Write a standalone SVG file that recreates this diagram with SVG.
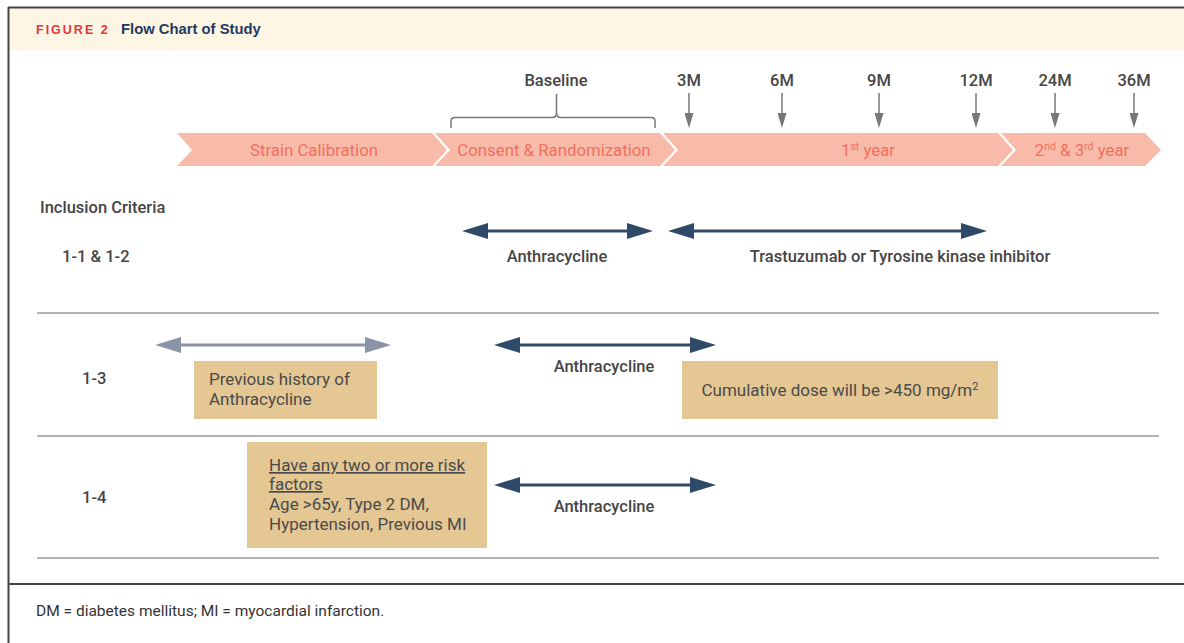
<svg xmlns="http://www.w3.org/2000/svg" width="1184" height="643" viewBox="0 0 1184 643">
<style>
.lbl{font-family:Roboto,"Liberation Sans",sans-serif;font-size:16.5px;font-weight:500;fill:#454545}
.chev{fill:#f9bba9}
.chevt{font-family:Roboto,"Liberation Sans",sans-serif;font-size:16.8px;fill:#f0705e;text-anchor:middle}
.box{fill:#e5c794}
.boxt{font-family:Roboto,"Liberation Sans",sans-serif;font-size:17px;fill:#4a4a4a}
.sep{stroke:#9a9a9a;stroke-width:1.5}
.dark{stroke:#2f4a69;stroke-width:3;fill:none}
.grey{stroke:#8b93a7;stroke-width:3;fill:none}
.tick{stroke:#777;stroke-width:1.5;fill:none}
</style>
<defs>
<marker id="hd" viewBox="0 0 26 16" refX="6" refY="8" markerWidth="26" markerHeight="16" markerUnits="userSpaceOnUse" orient="auto-start-reverse"><path d="M0,0 L26,8 L0,16 Z" fill="#2f4a69"/></marker>
<marker id="hg" viewBox="0 0 26 16" refX="6" refY="8" markerWidth="26" markerHeight="16" markerUnits="userSpaceOnUse" orient="auto-start-reverse"><path d="M0,0 L26,8 L0,16 Z" fill="#8b93a7"/></marker>
<marker id="ht" viewBox="0 0 15 9" refX="2" refY="4.5" markerWidth="15" markerHeight="9" markerUnits="userSpaceOnUse" orient="auto"><path d="M0,0 L15,4.5 L0,9 Z" fill="#777"/></marker>
</defs>
<rect x="0" y="0" width="1184" height="643" fill="#fff"/>
<g id="frame">
<rect x="9" y="8" width="1175" height="42" fill="#fef6e4"/>
<line x1="8" y1="7.5" x2="1184" y2="7.5" stroke="#444" stroke-width="2"/>
<line x1="8.5" y1="7" x2="8.5" y2="643" stroke="#444" stroke-width="2"/>
<line x1="8" y1="584" x2="1184" y2="584" stroke="#444" stroke-width="2"/>
<text x="36" y="34" font-family="'Liberation Sans',sans-serif" font-size="12.5" font-weight="bold" letter-spacing="2" fill="#e8333a">FIGURE 2</text>
<text x="121" y="34" font-family="'Liberation Sans',sans-serif" font-size="14.8" font-weight="bold" fill="#1f3a63">Flow Chart of Study</text>
<text x="36" y="616" font-family="Roboto,'Liberation Sans',sans-serif" font-size="15.5" fill="#333">DM = diabetes mellitus; MI = myocardial infarction.</text>
</g>
<g id="timeline">
<path class="chev" d="M177,133 L432,133 L447,150 L432,166 L177,166 L192,150 Z"/>
<path class="chev" d="M435,133 L660,133 L675,150 L660,166 L435,166 L450,150 Z"/>
<path class="chev" d="M663,133 L998,133 L1013,150 L998,166 L663,166 L678,150 Z"/>
<path class="chev" d="M1001,133 L1145,133 L1161,150 L1145,166 L1001,166 L1016,150 Z"/>
<text class="chevt" x="314" y="156">Strain Calibration</text>
<text class="chevt" x="554" y="156">Consent &amp; Randomization</text>
<text class="chevt" x="868" y="156">1<tspan font-size="10.5" dy="-6">st</tspan><tspan dy="6"> year</tspan></text>
<text class="chevt" x="1082" y="156">2<tspan font-size="10.5" dy="-6">nd</tspan><tspan dy="6"> &amp; 3</tspan><tspan font-size="10.5" dy="-6">rd</tspan><tspan dy="6"> year</tspan></text>
</g>
<g id="baseline">
<path class="tick" d="M451,128 L451,121 Q451,117.5 455,117.5 L552,117.5 Q556.5,117.5 556.5,113 L556.5,94 M556.5,113 Q556.5,117.5 561,117.5 L651,117.5 Q655,117.5 655,121 L655,128"/>
<text class="lbl" x="556" y="86" text-anchor="middle">Baseline</text>
</g>
<g id="months">
<text class="lbl" x="689" y="86" text-anchor="middle">3M</text>
<text class="lbl" x="782" y="86" text-anchor="middle">6M</text>
<text class="lbl" x="879" y="86" text-anchor="middle">9M</text>
<text class="lbl" x="976" y="86" text-anchor="middle">12M</text>
<text class="lbl" x="1055" y="86" text-anchor="middle">24M</text>
<text class="lbl" x="1134" y="86" text-anchor="middle">36M</text>
</g>
<g id="connectors">
<line class="tick" x1="689" y1="93" x2="689" y2="115" marker-end="url(#ht)"/>
<line class="tick" x1="782" y1="93" x2="782" y2="115" marker-end="url(#ht)"/>
<line class="tick" x1="879" y1="93" x2="879" y2="115" marker-end="url(#ht)"/>
<line class="tick" x1="976" y1="93" x2="976" y2="115" marker-end="url(#ht)"/>
<line class="tick" x1="1055" y1="93" x2="1055" y2="115" marker-end="url(#ht)"/>
<line class="tick" x1="1134" y1="93" x2="1134" y2="115" marker-end="url(#ht)"/>
<line class="dark" x1="482" y1="231" x2="633" y2="231" marker-start="url(#hd)" marker-end="url(#hd)"/>
<line class="dark" x1="688" y1="231" x2="967" y2="231" marker-start="url(#hd)" marker-end="url(#hd)"/>
<line class="grey" x1="175" y1="345" x2="371" y2="345" marker-start="url(#hg)" marker-end="url(#hg)"/>
<line class="dark" x1="514" y1="345" x2="696" y2="345" marker-start="url(#hd)" marker-end="url(#hd)"/>
<line class="dark" x1="514" y1="485" x2="696" y2="485" marker-start="url(#hd)" marker-end="url(#hd)"/>
</g>
<g id="rows">
<text class="lbl" x="40" y="213">Inclusion Criteria</text>
<text class="lbl" x="62" y="262">1-1 &amp; 1-2</text>
<text class="lbl" x="557" y="262" text-anchor="middle">Anthracycline</text>
<text class="lbl" x="900" y="262" text-anchor="middle">Trastuzumab or Tyrosine kinase inhibitor</text>
<line class="sep" x1="37" y1="313" x2="1159" y2="313"/>
<text class="lbl" x="82" y="384">1-3</text>
<text class="lbl" x="604" y="372" text-anchor="middle">Anthracycline</text>
<line class="sep" x1="37" y1="436" x2="1159" y2="436"/>
<text class="lbl" x="82" y="503">1-4</text>
<text class="lbl" x="604" y="512" text-anchor="middle">Anthracycline</text>
<line class="sep" x1="37" y1="558" x2="1159" y2="558"/>
</g>
<g id="box-prev">
<rect class="box" x="194" y="361" width="183" height="58"/>
<text class="boxt" x="209" y="385">Previous history of</text>
<text class="boxt" x="209" y="405">Anthracycline</text>
</g>
<g id="box-dose">
<rect class="box" x="682" y="361" width="316" height="58"/>
<text class="boxt" x="840" y="396" text-anchor="middle">Cumulative dose will be &gt;450 mg/m<tspan font-size="11" dy="-6">2</tspan></text>
</g>
<g id="box-risk">
<rect class="box" x="247" y="442" width="240" height="106"/>
<text class="boxt" x="269" y="471" text-decoration="underline">Have any two or more risk</text>
<text class="boxt" x="269" y="490" text-decoration="underline">factors</text>
<text class="boxt" x="269" y="510">Age &gt;65y, Type 2 DM,</text>
<text class="boxt" x="269" y="530">Hypertension, Previous MI</text>
</g>
</svg>
